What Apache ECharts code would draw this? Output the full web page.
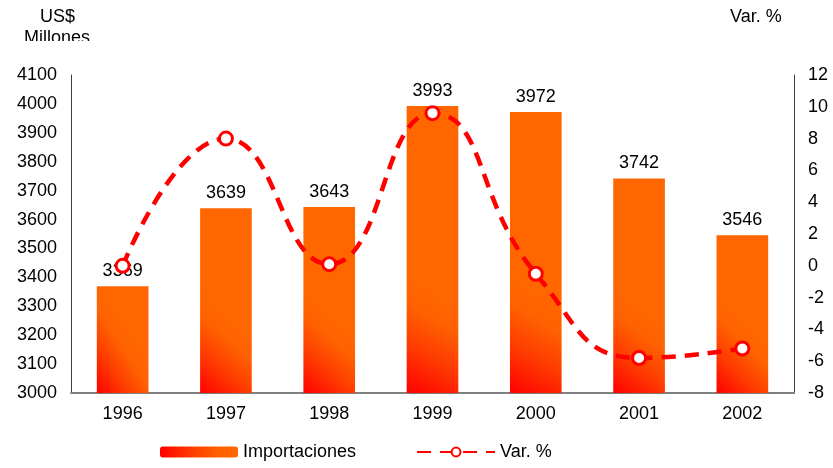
<!DOCTYPE html>
<html><head><meta charset="utf-8">
<script src="https://cdn.jsdelivr.net/npm/echarts@6/dist/echarts.min.js"></script>
<style>html,body{margin:0;padding:0;background:#fff}#c{width:833px;height:468px}</style>
</head><body><div id="c"></div>
<script>
var years = ['1996','1997','1998','1999','2000','2001','2002'];
var importaciones = [3369, 3639, 3643, 3993, 3972, 3742, 3546];
var variacion = [0.0, 8.0, 0.1, 9.6, -0.5, -5.8, -5.2];
var leftTicks = {min: 3000, max: 4100, step: 100};
var rightTicks = {min: -8, max: 12, step: 2};

var chart = echarts.init(document.getElementById('c'));
var FONT = 'Liberation Sans, Arial, sans-serif';
var barGrad = new echarts.graphic.LinearGradient(0, 1, 1, 0.68, [
  {offset: 0, color: '#FF0000'},
  {offset: 0.4, color: '#FF3A00'},
  {offset: 0.75, color: '#FF6200'},
  {offset: 1, color: '#FF6600'}
]);
chart.setOption({
  animation: false,
  textStyle: {fontFamily: FONT},
  grid: {left: 71, right: 39, top: 75, bottom: 75},
  legend: {
    bottom: 2, left: 155, itemGap: 60, itemWidth: 78, itemHeight: 11,
    textStyle: {fontSize: 18, color: '#000', fontFamily: FONT},
    data: [{name: 'Importaciones', itemStyle: {color: barGrad}}, {name: 'Var. %'}]
  },
  xAxis: {
    type: 'category', data: years,
    axisTick: {show: false},
    axisLine: {onZero: false, lineStyle: {color: '#808080', width: 2}},
    axisLabel: {color: '#000', fontSize: 18, margin: 12, fontFamily: FONT}
  },
  yAxis: [{
    type: 'value', min: leftTicks.min, max: leftTicks.max, interval: leftTicks.step,
    splitLine: {show: false}, axisTick: {show: false},
    axisLine: {show: true, lineStyle: {color: '#404040', width: 1}},
    axisLabel: {color: '#000', fontSize: 18, margin: 14, fontFamily: FONT, formatter: function (v) { return String(v); }}
  }, {
    type: 'value', min: rightTicks.min, max: rightTicks.max, interval: rightTicks.step,
    splitLine: {show: false}, axisTick: {show: false},
    axisLine: {show: true, lineStyle: {color: '#404040', width: 1}},
    axisLabel: {color: '#000', fontSize: 18, margin: 14, fontFamily: FONT, formatter: function (v) { return String(v); }}
  }],
  series: [{
    name: 'Importaciones', type: 'bar', data: importaciones, barWidth: '50%',
    itemStyle: {color: barGrad},
    label: {show: true, position: 'top', color: '#000', fontSize: 18, distance: 6, fontFamily: FONT}
  }, {
    name: 'Var. %', type: 'line', yAxisIndex: 1, data: variacion, smooth: 0.5,
    symbol: 'circle', symbolSize: 13,
    lineStyle: {color: '#FF0000', width: 4.5, type: [14, 9]},
    itemStyle: {color: '#FFFFFF', borderColor: '#FF0000', borderWidth: 3}
  }],
  graphic: [
    {type: 'text', left: 40, top: 8, style: {text: 'US$', fill: '#000', font: '18px ' + FONT}},
    {type: 'text', left: 24, top: 29, z: 1, style: {text: 'Millones', fill: '#000', font: '18px ' + FONT}},
    {type: 'rect', shape: {x: 0, y: 41, width: 140, height: 20}, style: {fill: '#fff'}, z: 2},
    {type: 'text', left: 730, top: 8, style: {text: 'Var. %', fill: '#000', font: '18px ' + FONT}}
  ]
});
</script></body></html>
